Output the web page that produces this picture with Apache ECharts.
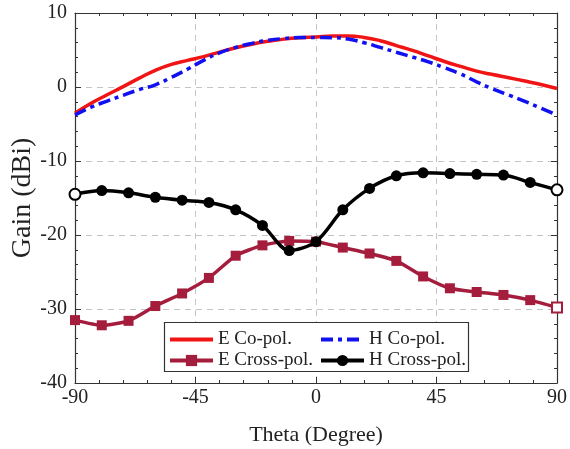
<!DOCTYPE html>
<html>
<head>
<meta charset="utf-8">
<script src="https://cdn.jsdelivr.net/npm/echarts@6/dist/echarts.min.js"></script>
<style>
  html, body { margin: 0; padding: 0; background: #fff; }
  #chart { width: 570px; height: 449px; }
</style>
</head>
<body>
<div id="chart"></div>
<script>
// Co-polarisation patterns, sampled every 6 degrees
const coTheta = [-90, -84, -78, -72, -66, -60, -54, -48, -42, -36, -30, -24, -18, -12, -6, 0,
                 6, 12, 18, 24, 30, 36, 42, 48, 54, 60, 66, 72, 78, 84, 90];
const eCoPol = [-3.55, -2.2, -1.05, 0.05, 1.2, 2.25, 3.05, 3.6, 4.1, 4.72, 5.3, 5.78, 6.17, 6.47, 6.66, 6.75,
                6.88, 6.9, 6.7, 6.25, 5.6, 4.95, 4.2, 3.45, 2.78, 2.15, 1.68, 1.25, 0.8, 0.33, -0.2];
const hCoPol = [-3.78, -2.72, -1.9, -1.12, -0.35, 0.3, 1.3, 2.4, 3.6, 4.62, 5.35, 5.9, 6.3, 6.55, 6.68, 6.68,
                6.67, 6.48, 5.98, 5.35, 4.7, 4.05, 3.4, 2.6, 1.75, 0.7, -0.25, -1.1, -1.95, -2.85, -3.78];

// Cross-polarisation patterns, measured every 10 degrees
const crossTheta = [-90, -80, -70, -60, -50, -40, -30, -20, -10, 0, 10, 20, 30, 40, 50, 60, 70, 80, 90];
const eCrossPol = [-31.5, -32.2, -31.6, -29.6, -27.9, -25.8, -22.8, -21.4, -20.8, -20.9,
                   -21.7, -22.5, -23.5, -25.6, -27.2, -27.7, -28.1, -28.8, -29.8];
const hCrossPol = [-14.5, -14.0, -14.3, -14.9, -15.3, -15.6, -16.6, -18.7, -22.1, -20.9,
                   -16.6, -13.7, -12.0, -11.6, -11.7, -11.8, -11.9, -12.9, -13.9];

const xTicks = [-90, -45, 0, 45, 90];
const yTicks = [-40, -30, -20, -10, 0, 10];

const seriesNames = ['E Co-pol.', 'H Co-pol.', 'E Cross-pol.', 'H Cross-pol.'];

const SERIF = "'Liberation Serif', 'Times New Roman', serif";
const TXT = '#222';

function pairs(xs, ys) { return xs.map((x, i) => [x, ys[i]]); }

// marker points at the border are drawn open
function markerData(xs, ys, color, openIdx) {
  return xs.map((x, i) => {
    const item = { value: [x, ys[i]] };
    if (openIdx.includes(i)) {
      item.itemStyle = { color: '#fff', borderColor: color, borderWidth: 2 };
    }
    return item;
  });
}

function baseAxis(extra) {
  return Object.assign({
    type: 'value',
    axisLine: { show: true, onZero: false, lineStyle: { color: '#333', width: 1.2 } },
    axisTick: { show: true, inside: true, length: 6, lineStyle: { color: '#333' } },
    minorTick: { show: true, splitNumber: 5, length: 3, lineStyle: { color: '#333' } },
    splitLine: { show: false },
    axisLabel: { show: false }
  }, extra);
}

// legend entry; plain lines carry no marker in the key
function legendItem(name, plain) {
  const item = { name: name, lineStyle: { width: 4 } };
  if (plain) item.itemStyle = { opacity: 0 };
  return item;
}

const legendCommon = {
  orient: 'vertical', top: 330, padding: 0, z: 6,
  itemWidth: 43, itemHeight: 14, itemGap: 2,
  textStyle: { fontFamily: SERIF, fontSize: 19, color: TXT }
};

const xMin = xTicks[0], xMax = xTicks[xTicks.length - 1];
const yMin = yTicks[0], yMax = yTicks[yTicks.length - 1];

const option = {
  backgroundColor: '#fff',
  animation: false,
  grid: { left: 75, right: 13, top: 13, bottom: 66, containLabel: false, outerBoundsMode: 'none' },
  xAxis: [
    baseAxis({
      min: xMin, max: xMax, interval: 45, position: 'bottom',
      axisLabel: { show: true, fontFamily: SERIF, fontSize: 20, color: TXT, margin: 5 },
      splitLine: { show: true, lineStyle: { color: '#c4c4c4', type: [6, 5], width: 1 } },
      name: 'Theta (Degree)', nameLocation: 'middle', nameGap: 41,
      nameTextStyle: { fontFamily: SERIF, fontSize: 22, color: TXT }
    }),
    baseAxis({ min: xMin, max: xMax, interval: 45, position: 'top' })
  ],
  yAxis: [
    baseAxis({
      min: yMin, max: yMax, interval: 10, position: 'left',
      axisLabel: { show: true, fontFamily: SERIF, fontSize: 20, color: TXT, margin: 8 },
      splitLine: { show: true, lineStyle: { color: '#c4c4c4', type: [6, 5], width: 1 } },
      name: 'Gain (dBi)', nameLocation: 'middle', nameGap: 38, nameRotate: 90,
      nameMoveOverlap: false,
      nameTextStyle: { fontFamily: SERIF, fontSize: 28, color: TXT }
    }),
    baseAxis({ min: yMin, max: yMax, interval: 10, position: 'right' })
  ],
  legend: [
    Object.assign({ left: 168, data: [legendItem(seriesNames[0], true), legendItem(seriesNames[2])] }, legendCommon),
    Object.assign({ left: 319, data: [legendItem(seriesNames[1], true), legendItem(seriesNames[3])] }, legendCommon)
  ],
  graphic: [
    {
      type: 'rect', z: 3,
      shape: { x: 164.5, y: 322.5, width: 304, height: 49 },
      style: { fill: '#fff', stroke: '#333', lineWidth: 1.2 }
    }
  ],
  series: [
    {
      name: seriesNames[0], type: 'line', data: pairs(coTheta, eCoPol),
      smooth: true, showSymbol: false, symbol: 'none', z: 3,
      lineStyle: { color: '#f01414', width: 3.5 },
      itemStyle: { color: '#f01414' }
    },
    {
      name: seriesNames[1], type: 'line', data: pairs(coTheta, hCoPol),
      smooth: true, showSymbol: false, symbol: 'none', z: 4,
      lineStyle: { color: '#1010f0', width: 3.5, type: [12, 5, 4, 5] },
      itemStyle: { color: '#1010f0' }
    },
    {
      name: seriesNames[2], type: 'line',
      data: markerData(crossTheta, eCrossPol, '#a51d3c', [crossTheta.length - 1]),
      smooth: 0.2, symbol: 'rect', symbolSize: 10, z: 3,
      lineStyle: { color: '#a51d3c', width: 3.5 },
      itemStyle: { color: '#a51d3c' }
    },
    {
      name: seriesNames[3], type: 'line',
      data: markerData(crossTheta, hCrossPol, '#000', [0, crossTheta.length - 1]),
      smooth: 0.3, symbol: 'circle', symbolSize: 11, z: 5,
      lineStyle: { color: '#000', width: 3.5 },
      itemStyle: { color: '#000' }
    }
  ]
};

const chart = echarts.init(document.getElementById('chart'), null, { renderer: 'canvas' });
chart.setOption(option);
</script>
</body>
</html>
